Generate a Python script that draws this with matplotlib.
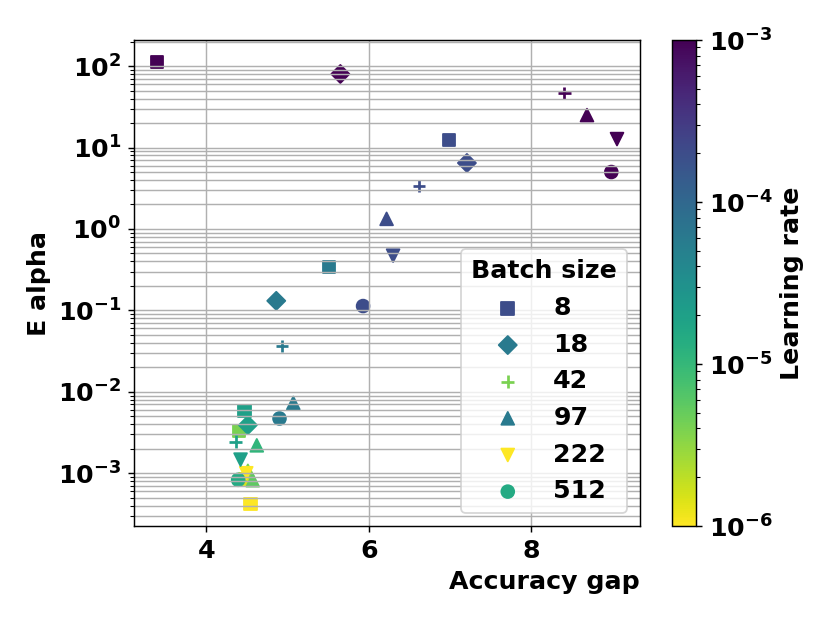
import matplotlib
matplotlib.use('Agg')
import matplotlib.pyplot as plt
from matplotlib.colors import LogNorm
from matplotlib.ticker import MultipleLocator

plt.rcParams['font.weight'] = 'bold'
plt.rcParams['axes.labelweight'] = 'bold'

# batch size -> (accuracy gap, E alpha, learning rate)
batch_sizes = [8, 18, 42, 97, 222, 512]
markers = ['s', 'D', '+', '^', 'v', 'o']

gap_8 = [6.99, 3.39, 5.51, 4.47, 4.40, 4.48, 4.54]
alpha_8 = [12.4, 112, 0.34, 0.0058, 0.0033, 0.00085, 0.00042]
lr_8 = [2e-4, 1e-3, 6e-5, 2e-5, 4e-6, 1.5e-6, 1e-6]

gap_18 = [4.86, 5.65, 7.21, 4.51]
alpha_18 = [0.131, 80, 6.46, 0.0039]
lr_18 = [6e-5, 1e-3, 2e-4, 2e-5]

gap_42 = [4.48, 8.41, 6.62, 4.93, 4.36]
alpha_42 = [0.00095, 46.6, 3.37, 0.0366, 0.00245]
lr_42 = [4e-6, 1e-3, 2e-4, 6e-5, 2e-5]

gap_97 = [5.07, 8.69, 6.22, 4.62, 4.51, 4.57]
alpha_97 = [0.0073, 25, 1.33, 0.0022, 0.00107, 0.00082]
lr_97 = [6e-5, 1e-3, 2e-4, 1.1e-5, 4e-6, 5.6e-6]

gap_222 = [4.49, 9.06, 6.30, 4.42]
alpha_222 = [0.00100, 12.7, 0.47, 0.00147]
lr_222 = [1e-6, 1e-3, 2e-4, 2e-5]

gap_512 = [4.39, 8.99, 5.93, 4.90]
alpha_512 = [0.00083, 5.0, 0.113, 0.0047]
lr_512 = [1.5e-5, 1e-3, 2e-4, 6e-5]

gaps = [gap_8, gap_18, gap_42, gap_97, gap_222, gap_512]
alphas = [alpha_8, alpha_18, alpha_42, alpha_97, alpha_222, alpha_512]
lrs = [lr_8, lr_18, lr_42, lr_97, lr_222, lr_512]

W, H = 830, 623
fig = plt.figure(figsize=(W / 130, H / 130), dpi=130)
ax = fig.add_axes([134 / W, 1 - 526 / H, (640 - 134) / W, (526 - 40) / H])
cax = fig.add_axes([672 / W, 1 - 526 / H, 24 / W, (526 - 40) / H])

norm = LogNorm(vmin=1e-6, vmax=1e-3)
for bs, m, x, y, c in zip(batch_sizes, markers, gaps, alphas, lrs):
    sc = ax.scatter(x, y, c=c, cmap='viridis_r', norm=norm, marker=m, s=50, label=str(bs))

ax.set_yscale('log')
ax.xaxis.set_major_locator(MultipleLocator(2))
ax.grid(True, which='both')
ax.set_xlabel('Accuracy gap', fontsize=14, loc='right')
ax.set_ylabel('E alpha', fontsize=14)
ax.tick_params(labelsize=14)
ax.legend(title='Batch size', loc='lower right', fontsize=14,
          title_fontproperties={'size': 14, 'weight': 'bold'})

cb = fig.colorbar(sc, cax=cax)
cb.set_label('Learning rate', fontsize=14)
cb.ax.tick_params(labelsize=14)

fig.savefig('out.png', dpi=130)
